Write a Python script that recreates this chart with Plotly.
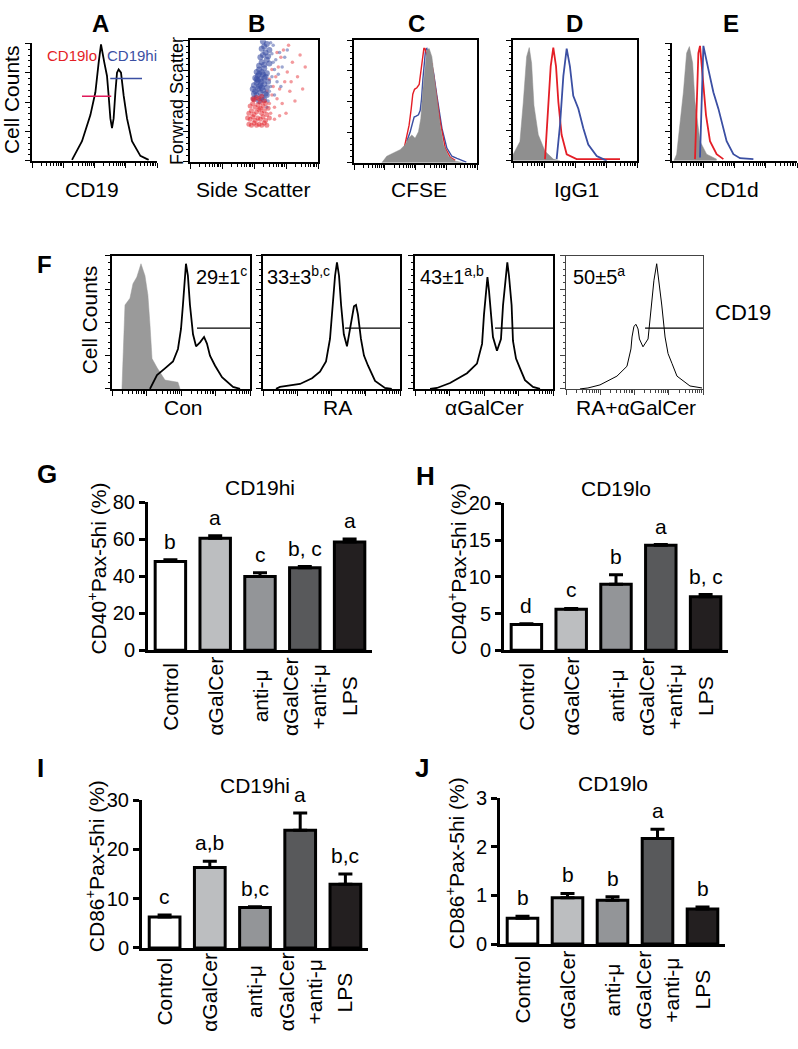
import math
import plotly.graph_objects as go

W, H = 798, 1049
FONT = "Arial, 'Liberation Sans', Helvetica, sans-serif"

# ---------------- data ----------------
# A: CD19 histogram (channel %, count %)
a_x = [32, 40, 46.7, 50.7, 53.3, 55.2, 57.9, 60, 61.3, 62.7, 64, 65.3, 66.7, 68, 69.3, 71.2, 73.3, 76, 80, 86.7, 93.3]
a_y = [0.8, 16.7, 38.9, 58.3, 83.3, 99, 83.3, 72.2, 55.6, 36.1, 27.8, 36.1, 58.3, 75, 77.8, 75, 55.6, 36.1, 16.7, 4.2, 0.8]

# B: side scatter vs forward scatter (CD19hi blue, CD19lo red)
b_blue_core_x = [50, 52, 54, 56, 58, 51, 53, 55, 57, 59, 50, 52, 54, 56, 58, 60, 51, 53, 55, 57, 59, 52, 54, 56, 58, 60, 49, 61, 55, 53,
                 54, 56, 58, 60, 55, 57, 59, 61, 56, 58, 60, 62, 57, 62, 50, 52, 54, 56, 58, 60]
b_blue_core_y = [52, 55, 50, 53, 51, 58, 60, 57, 59, 56, 63, 65, 62, 66, 64, 61, 69, 71, 68, 72, 70, 74, 76, 74, 77, 73, 60, 66, 63, 67,
                 79, 82, 80, 84, 86, 88, 90, 87, 93, 95, 97, 92, 99, 81, 56, 68, 72, 61, 69, 55]
b_blue_spread_x = [62, 64, 66, 63, 67, 70, 65, 68, 72, 61, 66, 74, 63, 64, 69, 71, 76, 60, 65]
b_blue_spread_y = [58, 70, 76, 62, 84, 90, 96, 66, 78, 50, 55, 86, 98, 89, 72, 62, 92, 45, 82]
b_red_core_x = [46, 48, 50, 52, 54, 56, 58, 47, 49, 51, 53, 55, 57, 59, 46, 48, 50, 52, 54, 56, 58, 60, 47, 49, 51, 53, 55, 57, 59, 50,
                52, 54, 56, 58, 61, 62, 45, 60, 49, 55]
b_red_core_y = [31, 30, 32, 30, 31, 30, 32, 35, 37, 34, 36, 35, 37, 34, 40, 42, 39, 41, 43, 40, 42, 39, 46, 48, 45, 47, 49, 46, 48, 51,
                53, 52, 54, 50, 44, 36, 36, 30, 52, 44]
b_red_spread_x = [62, 64, 63, 66, 65, 68, 67, 70, 72, 69, 74, 71, 76, 78, 80, 73, 84, 86, 77, 82, 90, 66, 75, 60, 62, 64, 70, 79, 88, 68]
b_red_spread_y = [48, 55, 40, 45, 62, 52, 70, 60, 48, 78, 66, 86, 74, 58, 82, 92, 70, 88, 96, 50, 78, 35, 40, 58, 68, 76, 38, 66, 60, 90]

# C: CFSE
c_gray_x = [22.6, 26.6, 32, 37.5, 41.6, 44.3, 47, 49.7, 52.4, 54.3, 56, 57.9, 59.2, 61.1, 63.3, 65.2, 67.4, 70.1, 72.8, 76.9, 82.3, 89.1]
c_gray_y = [0, 5.3, 8, 10.7, 14.7, 20, 22.7, 20, 25.3, 36, 60, 81.3, 92, 93.3, 86.7, 70.7, 52, 30.7, 14.7, 5.3, 1.3, 0]
c_red_x = [40.8, 42.9, 44.8, 46.5, 47.8, 49.2, 51.1, 53, 54.3, 55.7, 56.8, 57.6, 58.4, 59.2, 60.6, 63.3, 66, 70.1, 74.2, 78.3, 82.3]
c_red_y = [12, 21.3, 30.7, 44, 56, 60, 61.3, 64, 73.3, 86.7, 93.3, 93.3, 90.7, 86.7, 84, 81.3, 62.7, 33.3, 12, 4.5, 1.9]
c_blue_x = [42.9, 45.7, 47.8, 48.9, 50.5, 52.4, 53.8, 54.9, 56, 57.1, 58.2, 59.2, 60.3, 62, 64.7, 67.4, 71.5, 75.5, 79.6, 83.7, 87.8, 91.3]
c_blue_y = [17.3, 25.3, 33.3, 37.3, 38.1, 39.2, 42.7, 52, 68, 84, 92.5, 93.3, 89.3, 84, 73.3, 54.7, 28, 12, 5.3, 3.5, 1.9, 0.5]

# D: IgG1
d_gray_x = [0, 5.6, 8.3, 11, 13.1, 15, 16.9, 20.4, 25.8, 32.5, 37.9]
d_gray_y = [5, 16, 48.6, 86.5, 94, 81, 46, 21.6, 8, 1.4, 0]
d_red_x = [25.8, 28.5, 30.4, 32.5, 34.7, 36.6, 39.2, 43.3, 51.3, 86.3]
d_red_y = [1.4, 43.2, 78.4, 94, 78.4, 48.6, 21.6, 5.4, 1.4, 1.4]
d_blue_x = [35.2, 37.9, 40.6, 43.3, 45.9, 48.6, 52.7, 56.7, 60.7, 67.5, 72.8, 75.5]
d_blue_y = [1.4, 29.7, 70.3, 93.2, 78.4, 54, 43.2, 27, 13.5, 4, 1.4, 0]

# E: CD1d
e_gray_x = [1.5, 3.7, 9.1, 11.7, 13.9, 16.5, 18.4, 22.4, 27.7, 35.7]
e_gray_y = [0, 5.6, 58.3, 91.7, 97.2, 83.3, 50, 16.7, 5.6, 1.4]
e_red_x = [18.4, 19.7, 21.1, 22.4, 24.5, 27.2, 30.4, 35.7, 41.1]
e_red_y = [1.4, 44.4, 91.7, 97.8, 72.2, 38.9, 16.7, 5.6, 1.4]
e_blue_x = [22.4, 23.7, 25.1, 29.1, 33.1, 37.1, 39.7, 43.7, 49.1, 54.4, 65.1]
e_blue_y = [2.8, 58.3, 97.8, 77.8, 58.3, 44.4, 33.3, 16.7, 5.6, 2.2, 1.4]

# F: CD19 histograms per treatment
f1_gray_x = [7.2, 8, 9.4, 13, 15.2, 18, 21, 23.9, 26, 27.5, 29, 32.6, 38.4, 47.8, 49.3]
f1_gray_y = [0, 23, 63, 68, 79, 84, 94, 85, 70.6, 48.5, 22.8, 16, 6.6, 5, 0]
f1_x = [27.5, 32.6, 38.4, 44.2, 47.8, 50, 51.4, 52.9, 53.6, 55, 56.5, 58.7, 60.9, 63.8, 66.7, 68.8, 71, 74.6, 79.7, 87.7, 92.8]
f1_y = [0, 10.3, 15.4, 20.6, 30, 45, 63, 85, 94, 85, 63, 41, 32, 35, 39, 34, 25, 17.6, 8.8, 1.5, 0]
f2_x = [9.5, 12.4, 27, 35.8, 41.6, 46, 48.9, 51, 52.6, 54, 55.5, 57, 59, 61.3, 64.2, 66.4, 67.9, 69.3, 71.5, 73.7, 76.6, 81.8, 89, 94]
f2_y = [0, 1.5, 3.7, 8, 13, 20.6, 37.5, 63, 85, 95, 85, 63, 41, 32, 48.5, 62, 63, 56, 37.5, 25, 17.6, 6, 0.7, 0]
f3_x = [10.9, 15.9, 25.4, 37.7, 44.9, 48.6, 50, 51.4, 52.5, 53.6, 55, 56.5, 59.4, 62.3, 63.8, 65.6, 66.9, 68.1, 70, 71, 73.2, 76.1, 79.7, 85.5, 90.6]
f3_y = [0, 0.7, 4.4, 11.8, 19, 33.8, 56, 74, 84, 74, 56, 39, 28.7, 37.5, 63, 85, 95, 85, 63, 36, 22.8, 15.4, 6.6, 1.5, 0]
f4_x = [10.2, 16, 24.8, 37.2, 44.5, 47.4, 48.2, 49.6, 51.1, 52.6, 53.6, 56.2, 59.9, 62.5, 64.2, 66.2, 67.9, 69.9, 72.3, 74.5, 77.4, 81, 90.5, 99.3]
f4_y = [0, 0.7, 3, 9.6, 17, 30, 39, 47, 48.5, 45, 37.5, 31.6, 37.5, 63, 81.6, 94, 81.6, 63, 39, 26.5, 19, 9.6, 2.2, 0.7]
f_titles = ["Con", "RA", "αGalCer", "RA+αGalCer"]
f_stats = ["29±1<sup>c</sup>", "33±3<sup>b,c</sup>", "43±1<sup>a,b</sup>", "50±5<sup>a</sup>"]

# G-J: bar charts
cats = ["Control", "αGalCer", "anti-μ", "αGalCer<br>+anti-μ", "LPS"]
g_vals = [48, 60.6, 40, 44.7, 58.6]
g_err = [1.0, 1.4, 2.0, 0.6, 1.6]
g_letters = ["b", "a", "c", "b, c", "a"]
h_vals = [3.5, 5.6, 9.0, 14.3, 7.3]
h_err = [0.12, 0.1, 1.3, 0.1, 0.3]
h_letters = ["d", "c", "b", "a", "b, c"]
i_vals = [6.3, 16.3, 8.2, 23.9, 12.9]
i_err = [0.4, 1.3, 0.15, 3.5, 2.1]
i_letters = ["c", "a,b", "b,c", "a", "b,c"]
j_vals = [0.53, 0.95, 0.9, 2.17, 0.72]
j_err = [0.04, 0.09, 0.07, 0.19, 0.04]
j_letters = ["b", "b", "b", "a", "b"]
bar_colors = ["#ffffff", "#bcbec0", "#939598", "#58595b", "#231f20"]

RED = "#e41e26"
BLUE = "#3b4fa3"
GRAY = "#8f8f8f"

# ---------------- layout helpers ----------------
fig = go.Figure()
layout = {}
annotations = []
shapes = []
counter = [0]


def px(x):
    return x / W


def py(y):
    return 1 - y / H


def log_minor(n_dec=4, span=100.0):
    vals = []
    step = span / n_dec
    for d in range(n_dec):
        for k in range(2, 10):
            vals.append(d * step + step * math.log10(k))
    return vals


def add_axes(x0, x1, y0, y1, xaxis_kw, yaxis_kw):
    counter[0] += 1
    n = counter[0]
    xs = "" if n == 1 else str(n)
    xref, yref = "x" + xs, "y" + xs
    xa = dict(domain=[px(x0), px(x1)], anchor=yref, showgrid=False, zeroline=False, fixedrange=True)
    ya = dict(domain=[py(y1), py(y0)], anchor=xref, showgrid=False, zeroline=False, fixedrange=True)
    xa.update(xaxis_kw)
    ya.update(yaxis_kw)
    layout["xaxis" + xs] = xa
    layout["yaxis" + xs] = ya
    return xref, yref


def hist_axes(x0, x1, y0, y1, box=True, lw=1.6, color="black"):
    common = dict(showline=True, linecolor=color, linewidth=lw, mirror=box, showticklabels=False,
                  ticks="outside", tickcolor=color, tickwidth=1)
    xk = dict(common, range=[0, 100], tickmode="array", tickvals=[0, 25, 50, 75, 100], ticklen=5,
              minor=dict(tickmode="array", tickvals=log_minor(), ticks="outside", ticklen=3, tickcolor=color))
    yk = dict(common, range=[0, 100], tickmode="linear", tick0=0, dtick=25, ticklen=5,
              minor=dict(tickmode="linear", tick0=0, dtick=5, ticks="outside", ticklen=2.5, tickcolor=color))
    return add_axes(x0, x1, y0, y1, xk, yk)


def line_trace(xr, yr, x, y, color="black", width=1.8):
    fig.add_trace(go.Scatter(x=x, y=y, xaxis=xr, yaxis=yr, mode="lines",
                             line=dict(color=color, width=width), hoverinfo="skip"))


def fill_trace(xr, yr, x, y, color=GRAY):
    fig.add_trace(go.Scatter(x=x, y=y, xaxis=xr, yaxis=yr, mode="lines", fill="tozeroy",
                             fillcolor=color, line=dict(color=color, width=0.5), hoverinfo="skip"))


def dots(xr, yr, x, y, color, size, opacity):
    fig.add_trace(go.Scatter(x=x, y=y, xaxis=xr, yaxis=yr, mode="markers",
                             marker=dict(color=color, size=size, opacity=opacity, line=dict(width=0)),
                             hoverinfo="skip"))


def text(x, y, s, size=18, bold=False, color="black", angle=0, xanchor="center", yanchor="middle", **kw):
    annotations.append(dict(x=px(x), y=py(y), xref="paper", yref="paper", text=("<b>%s</b>" % s) if bold else s,
                            showarrow=False, textangle=angle, xanchor=xanchor, yanchor=yanchor,
                            font=dict(family=FONT, size=size, color=color), **kw))


# ---------------- top row ----------------
# A
xr, yr = hist_axes(32, 157, 33, 153, box=False)
line_trace(xr, yr, a_x, a_y, width=1.8)
shapes.append(dict(type="line", xref=xr, yref=yr, x0=40, x1=63.4, y0=55, y1=55, line=dict(color="#e0195a", width=1.5)))
shapes.append(dict(type="line", xref=xr, yref=yr, x0=62.6, x1=88, y0=70, y1=70, line=dict(color=BLUE, width=1.5)))
annotations.append(dict(x=32, y=90, xref=xr, yref=yr, text="CD19lo", showarrow=False,
                        font=dict(family=FONT, size=15, color=RED)))
annotations.append(dict(x=80, y=90, xref=xr, yref=yr, text="CD19hi", showarrow=False,
                        font=dict(family=FONT, size=15, color=BLUE)))

# B
xr, yr = hist_axes(190, 318, 30, 154, box=True)
dots(xr, yr, b_red_spread_x, b_red_spread_y, RED, 3.5, 0.45)
dots(xr, yr, b_blue_spread_x, b_blue_spread_y, BLUE, 3.5, 0.5)
dots(xr, yr, b_blue_core_x, b_blue_core_y, BLUE, 6, 0.6)
dots(xr, yr, b_red_core_x, b_red_core_y, RED, 5, 0.5)

# C
xr, yr = hist_axes(354, 477, 30, 155, box=True)
line_trace(xr, yr, c_blue_x, c_blue_y, color=BLUE, width=1.4)
line_trace(xr, yr, c_red_x, c_red_y, color=RED, width=1.4)
fill_trace(xr, yr, c_gray_x, c_gray_y)

# D
xr, yr = hist_axes(513, 637, 30, 153, box=True)
fill_trace(xr, yr, d_gray_x, d_gray_y)
line_trace(xr, yr, d_red_x, d_red_y, color=RED, width=1.8)
line_trace(xr, yr, d_blue_x, d_blue_y, color=BLUE, width=1.8)

# E
xr, yr = hist_axes(672, 797, 33, 153, box=False)
fill_trace(xr, yr, e_gray_x, e_gray_y)
line_trace(xr, yr, e_red_x, e_red_y, color=RED, width=1.8)
line_trace(xr, yr, e_blue_x, e_blue_y, color=BLUE, width=1.8)

for lab, x in zip(["A", "B", "C", "D", "E"], [100, 256, 416, 574, 731]):
    text(x, 13, lab, size=24, bold=True)
for lab, x in zip(["CD19", "Side Scatter", "CFSE", "IgG1", "CD1d"], [92, 253, 419, 577, 732]):
    text(x, 182, lab, size=21)
text(11, 91, "Cell Counts", size=21, angle=-90)
text(177, 92, "Forwrad Scatter", size=18, angle=-90)

# ---------------- F row ----------------
f_boxes = [(112, 250), (263, 400), (415, 553), (566, 703)]
f_data = [(f1_x, f1_y), (f2_x, f2_y), (f3_x, f3_y), (f4_x, f4_y)]
gate_start = [61.6, 59.9, 58, 57.7]
for k, ((x0, x1), (fx, fy)) in enumerate(zip(f_boxes, f_data)):
    thin = (k == 3)
    xr, yr = hist_axes(x0, x1, 250, 386, box=True, lw=1.0 if thin else 1.8, color="#444" if thin else "black")
    if k == 0:
        fill_trace(xr, yr, f1_gray_x, f1_gray_y, color="#9a9a9a")
    line_trace(xr, yr, fx, fy, width=1.0 if thin else 1.8)
    shapes.append(dict(type="line", xref=xr, yref=yr, x0=gate_start[k], x1=100, y0=45.6, y1=45.6,
                       line=dict(color="black", width=1.2)))

text(183, 405, f_titles[0], size=21)
text(337, 405, f_titles[1], size=21)
text(484, 405, f_titles[2], size=21)
text(636, 405, f_titles[3], size=21)
text(249, 255, f_stats[0], size=20, xanchor="right", yanchor="top")
text(265, 255, f_stats[1], size=20, xanchor="left", yanchor="top")
text(418, 255, f_stats[2], size=20, xanchor="left", yanchor="top")
text(571, 255, f_stats[3], size=20, xanchor="left", yanchor="top")
text(44, 259, "F", size=24, bold=True)
text(89, 316, "Cell Counts", size=21, angle=-90)
text(743, 308, "CD19", size=22)

# ---------------- bar charts ----------------


def bar_panel(x0, x1, y0, y1, vals, errs, letters, ymax, dtick, title, ytitle_x, ytitle, letter, letter_xy, label_y):
    xk = dict(range=[-0.5, 4.5], showline=True, linecolor="black", linewidth=3, showticklabels=False, ticks="")
    yk = dict(range=[0, ymax], tickmode="linear", tick0=0, dtick=dtick, showline=True, linecolor="black",
              linewidth=3, ticks="outside", ticklen=6, tickwidth=3, tickcolor="black",
              tickfont=dict(family=FONT, size=20, color="black"))
    xr, yr = add_axes(x0, x1, y0, y1, xk, yk)
    fig.add_trace(go.Bar(x=list(range(len(vals))), y=vals, xaxis=xr, yaxis=yr, width=0.68,
                         marker=dict(color=bar_colors, line=dict(color="black", width=3)),
                         error_y=dict(type="data", symmetric=False, array=errs, arrayminus=[0] * len(errs),
                                      thickness=3, width=7, color="black"),
                         hoverinfo="skip"))
    for i, (v, e, l) in enumerate(zip(vals, errs, letters)):
        annotations.append(dict(x=i, y=v + e, xref=xr, yref=yr, text=l, showarrow=False, yanchor="bottom",
                                yshift=5, font=dict(family=FONT, size=21, color="black")))
    xc = (x0 + x1) / 2
    text(xc, y0 - 15, title, size=21)
    text(ytitle_x, (y0 + y1) / 2 - 8, ytitle, size=21, angle=-90)
    text(letter_xy[0], letter_xy[1], letter, size=26, bold=True)
    step = (x1 - x0) / 5.0
    for i, c in enumerate(cats):
        text(x0 + step * (i + 0.5), label_y, c, size=21, angle=-90)


ylab40 = "CD40<sup>+</sup>Pax-5hi (%)"
ylab86 = "CD86<sup>+</sup>Pax-5hi (%)"
bar_panel(148, 372, 502, 653, g_vals, g_err, g_letters, 80, 20, "CD19hi", 97, ylab40, "G", (47, 473), 700)
bar_panel(504, 728, 503, 653, h_vals, h_err, h_letters, 20, 5, "CD19lo", 457, ylab40, "H", (425, 475), 700)
bar_panel(142, 368, 806, 957, i_vals, i_err, i_letters, 30, 10, "CD19hi", 95, ylab86, "I", (40, 773), 1002)
bar_panel(500, 725, 804, 953, j_vals, j_err, j_letters, 3, 1, "CD19lo", 455, ylab86, "J", (422, 773), 1000)

fig.update_layout(**layout)
fig.update_layout(width=W, height=H, margin=dict(l=0, r=0, t=0, b=0), showlegend=False,
                  plot_bgcolor="white", paper_bgcolor="white", annotations=annotations, shapes=shapes,
                  font=dict(family=FONT, color="black"))

fig.write_html("out.html", config={"displayModeBar": False},
               post_script="document.body.style.margin='0';document.body.style.overflow='hidden';")
